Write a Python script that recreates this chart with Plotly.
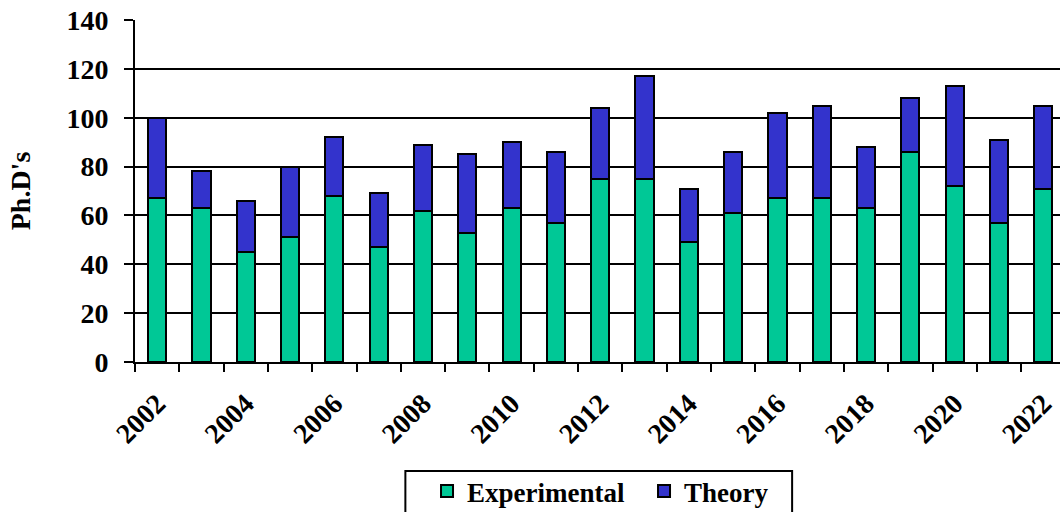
import plotly.graph_objects as go

years = list(range(2002, 2023))
experimental = [67, 63, 45, 51, 68, 47, 62, 53, 63, 57, 75, 75, 49, 61, 67, 67, 63, 86, 72, 57, 71]
theory = [33, 15, 21, 29, 24, 22, 27, 32, 27, 29, 29, 42, 22, 25, 35, 38, 25, 22, 41, 34, 34]
label_years = [y for y in years if y % 2 == 0]
boundaries = [y - 0.5 for y in years] + [years[-1] + 0.5]

FONT = "Liberation Serif, Times New Roman, serif"
FS = 28

fig = go.Figure()
fig.add_trace(go.Bar(x=years, y=experimental, name="Experimental",
                     marker=dict(color="#00C896", line=dict(color="black", width=2)),
                     width=0.41))
fig.add_trace(go.Bar(x=years, y=theory, name="Theory",
                     marker=dict(color="#3333CC", line=dict(color="black", width=2)),
                     width=0.41))

# legend frame
fig.add_shape(type="rect", xref="paper", yref="paper",
              x0=0.2923, x1=0.7104, y0=-0.3187, y1=-0.6,
              line=dict(color="black", width=2), fillcolor="rgba(0,0,0,0)", layer="above")

fig.update_layout(
    barmode="stack",
    width=1060, height=512,
    margin=dict(l=134.5, r=0, t=20, b=150, autoexpand=False),
    paper_bgcolor="white", plot_bgcolor="white",
    font=dict(family=FONT, color="black", size=FS, weight="bold"),
    showlegend=True,
    legend=dict(orientation="h", x=0.3157, xanchor="left", y=-0.307, yanchor="top",
                xref="paper", yref="paper",
                borderwidth=0, bgcolor="rgba(0,0,0,0)",
                entrywidth=172, entrywidthmode="pixels",
                font=dict(family=FONT, size=27, color="black", weight="bold"),
                traceorder="normal"),
    xaxis=dict(
        range=[years[0] - 0.5, years[0] - 0.5 + 925.5 / 44.33],
        tickmode="array", tickvals=label_years, ticktext=[str(y) for y in label_years],
        tickangle=-45, ticks="", ticklabelstandoff=12,
        tickfont=dict(family=FONT, size=FS, color="black", weight="bold"),
        minor=dict(tickmode="array", tickvals=boundaries, ticks="outside",
                   ticklen=8, tickwidth=2, tickcolor="black", showgrid=False),
        showgrid=False, zeroline=False,
        showline=True, linecolor="black", linewidth=2,
        automargin=False,
    ),
    yaxis=dict(
        range=[0, 140], tickmode="linear", tick0=0, dtick=20,
        ticks="outside", ticklen=9, tickwidth=2, tickcolor="black",
        ticklabelstandoff=10,
        tickfont=dict(family=FONT, size=FS, color="black", weight="bold"),
        showgrid=True, gridcolor="black", gridwidth=2,
        zeroline=False, showline=True, linecolor="black", linewidth=2,
        title=dict(text="Ph.D's", standoff=28,
                   font=dict(family=FONT, size=FS, color="black", weight="bold")),
        automargin=False,
    ),
)

fig.write_html("out.html", config={"displayModeBar": False},
               post_script="document.body.style.margin='0';document.body.style.overflow='hidden';")
